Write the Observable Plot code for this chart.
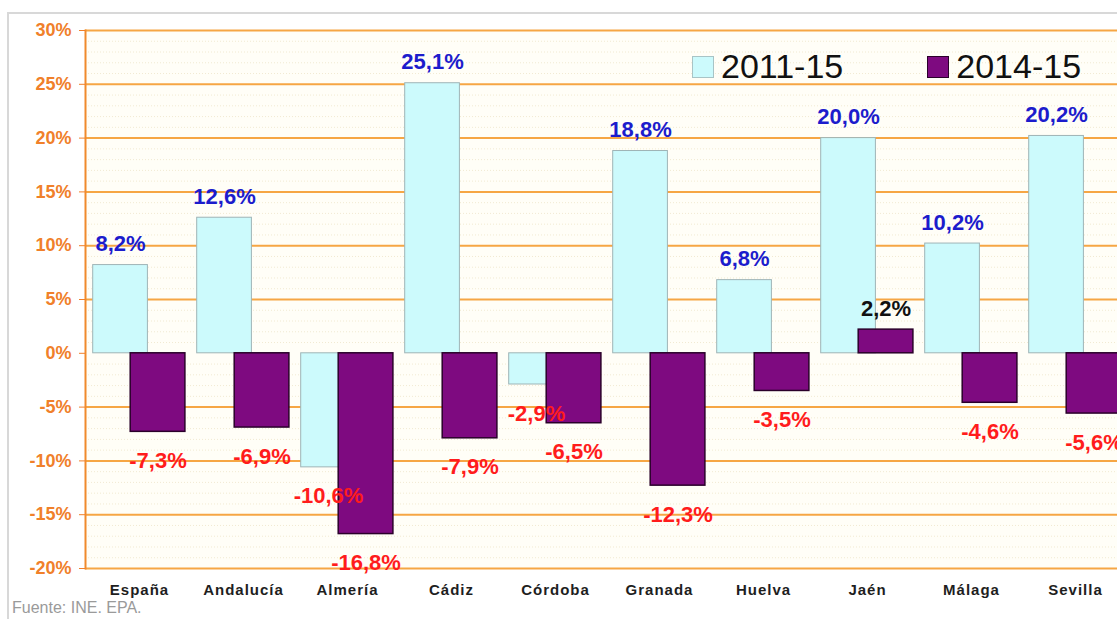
<!DOCTYPE html>
<html>
<head>
<meta charset="utf-8">
<script src="https://cdn.jsdelivr.net/npm/d3@7"></script>
<script src="https://cdn.jsdelivr.net/npm/@observablehq/plot@0.6"></script>
<style>
  html, body { margin: 0; padding: 0; background: #fff; }
  #wrap { position: relative; width: 1117px; height: 619px; overflow: hidden; font-family: "Liberation Sans", Arial, sans-serif; }
  #border { position: absolute; left: 7px; top: 12px; width: 1300px; height: 800px; border: 2px solid #d8d8d8; box-sizing: border-box; z-index: 5; pointer-events: none; }
  #chart { position: absolute; left: 0; top: 0; }
  #chart svg { overflow: visible; background: transparent; }
  #legend { position: absolute; top: 47px; left: 692px; display: flex; align-items: center; font-size: 34px; color: #111; }
  .sw { display: inline-block; width: 22px; height: 22px; box-sizing: border-box; margin-right: 7px; }
  #source { position: absolute; left: 12px; top: 599px; font-size: 16px; color: #9a9a9a; }
  g[aria-label="x-axis tick label"] text { letter-spacing: 1px; }
</style>
</head>
<body>
<div id="wrap">
  <div id="border"></div>
  <div id="chart"></div>
  <div id="legend"></div>
  <div id="source">Fuente: INE. EPA.</div>
</div>
<script>
const categories = ["España", "Andalucía", "Almería", "Cádiz", "Córdoba", "Granada", "Huelva", "Jaén", "Málaga", "Sevilla"];
const series = ["2011-15", "2014-15"];
const values2011_15 = [8.2, 12.6, -10.6, 25.1, -2.9, 18.8, 6.8, 20.0, 10.2, 20.2];
const values2014_15 = [-7.3, -6.9, -16.8, -7.9, -6.5, -12.3, -3.5, 2.2, -4.6, -5.6];
const yTicks = [-20, -15, -10, -5, 0, 5, 10, 15, 20, 25, 30];
const seriesColors = ["#ccfafc", "#7e0a80"];

const rowsA = categories.map((c, i) => ({cat: c, v: values2011_15[i]}));
const rowsB = categories.map((c, i) => ({cat: c, v: values2014_15[i]}));
const fmt = d => d.v.toFixed(1).replace(".", ",") + "%";
const minorTicks = d3.range(-20, 30.01, 1).filter(t => t % 5 !== 0);

const labelFont = {fontSize: 22, fontWeight: "bold", fontFamily: "Liberation Sans, Arial, sans-serif"};

const chart = Plot.plot({
  width: 1117,
  height: 619,
  marginTop: 30,
  marginBottom: 51,
  marginLeft: 85,
  marginRight: 0,
  style: {fontFamily: "Liberation Sans, Arial, sans-serif", background: "transparent"},
  x: {domain: categories, range: [85, 1128.3], padding: 0, label: null},
  y: {domain: [-20, 30], label: null},
  marks: [
    Plot.frame({fill: "#fffef7", stroke: null}),
    Plot.ruleY(minorTicks, {stroke: "#f1ead2", strokeDasharray: "1,2"}),
    Plot.ruleY(yTicks.filter(t => t !== 0), {stroke: "#f6a644", strokeWidth: 2}),
    Plot.barY(rowsA, {x: "cat", y: "v", fill: seriesColors[0], stroke: "#9fb4b6", strokeWidth: 1, insetLeft: 5.7, insetRight: 43.6}),
    Plot.barY(rowsB, {x: "cat", y: "v", fill: seriesColors[1], stroke: "#2a002a", strokeWidth: 1.5, insetLeft: 43.2, insetRight: 6.1}),
    Plot.frame({anchor: "left", stroke: "#f08a2c", strokeWidth: 2}),
    Plot.axisY({ticks: yTicks, tickFormat: d => d + "%", tickSize: 6, tickPadding: 8, color: "#f0802a", fontSize: 18, fontWeight: "bold", label: null}),
    Plot.axisX({tickSize: 0, tickPadding: 16, fill: "#1e1e1e", fontSize: 15, fontWeight: "bold", label: null}),
    Plot.text(rowsA, {filter: d => d.v >= 0, x: "cat", y: "v", text: fmt, dx: -19, dy: -21, fill: "#1c1ccc", ...labelFont}),
    Plot.text(rowsA, {filter: d => d.v < 0, x: "cat", y: "v", text: fmt, dx: -19, dy: 29, fill: "#ff1c1c", ...labelFont}),
    Plot.text(rowsB, {filter: d => d.v >= 0, x: "cat", y: "v", text: fmt, dx: 18.5, dy: -21, fill: "#111", ...labelFont}),
    Plot.text(rowsB, {filter: d => d.v < 0, x: "cat", y: "v", text: fmt, dx: 18.5, dy: 29, fill: "#ff1c1c", ...labelFont})
  ]
});
document.getElementById("chart").appendChild(chart);

const legend = document.getElementById("legend");
series.forEach((s, i) => {
  const item = document.createElement("span");
  item.style.display = "flex";
  item.style.alignItems = "center";
  if (i > 0) item.style.marginLeft = "84px";
  const sw = document.createElement("span");
  sw.className = "sw";
  sw.style.background = seriesColors[i];
  sw.style.border = i === 0 ? "1px solid #a8c4c6" : "1px solid #2a002a";
  item.appendChild(sw);
  item.appendChild(document.createTextNode(s));
  legend.appendChild(item);
});
</script>
</body>
</html>
